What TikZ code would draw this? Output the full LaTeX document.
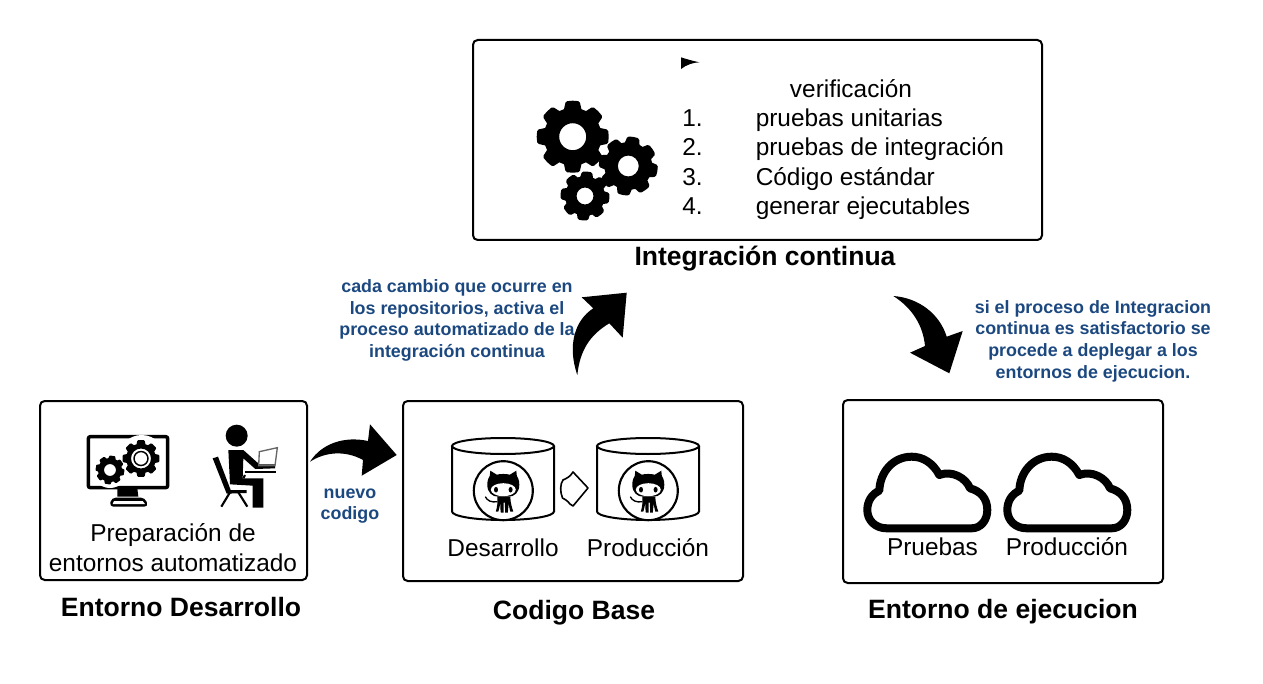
\documentclass[tikz,border=0pt]{standalone}
\usepackage{fontspec}
\setmainfont{Liberation Sans}
\definecolor{noteblue}{RGB}{28,72,128}
\newcommand{\gearshape}[6]{% cx cy router rinner hole phase
  \filldraw[even odd rule,line join=round]
   \foreach \k in {0,...,7}{
     \ifnum\k=0 ({#1+#4*cos(#6-15)},{#2+#4*sin(#6-15)}) \else -- ({#1+#4*cos(\k*45+#6-15)},{#2+#4*sin(\k*45+#6-15)}) \fi
     -- ({#1+#3*cos(\k*45+#6-9)},{#2+#3*sin(\k*45+#6-9)})
     arc[start angle={\k*45+#6-9},end angle={\k*45+#6+9},radius=#3]
     -- ({#1+#4*cos(\k*45+#6+15)},{#2+#4*sin(\k*45+#6+15)})
   } -- cycle
   (#1,#2) circle[radius=#5];}
\newcommand{\octocat}[2]{%
 \begin{scope}[shift={(#1,#2)}]
  \draw[line width=1.6pt,fill=white] (0,0) circle[radius=29.5];
  \fill (-16,-6) .. controls (-16,-11) and (-14.5,-13) .. (-13.5,-15) -- (-13,-20) -- (-6.5,-16)
     .. controls (-3,-17) and (3,-17) .. (6.5,-16) -- (13,-20) -- (13.5,-15)
     .. controls (14.5,-13) and (16,-11) .. (16,-6)
     .. controls (16,2) and (11,6) .. (5,6) -- (-5,6) .. controls (-11,6) and (-16,2) .. (-16,-6) -- cycle;
  \fill[white] (0,-1) ellipse[x radius=12.5,y radius=6.5];
  \fill (-7.3,-1) ellipse[x radius=2,y radius=2.8] (7.3,-1) ellipse[x radius=2,y radius=2.8];
  \fill (-6,6) -- (7,6) .. controls (7,12) and (9,18) .. (10,21) -- (7,21) .. controls (6,17) and (5.5,14) .. (5,12)
     .. controls (5,16) and (5,19) .. (4.5,22) -- (1.8,22) -- (1.6,12) -- (0.4,12) -- (0.2,22) -- (-2.5,22) .. controls (-3,18) and (-3,15) .. (-3,12)
     .. controls (-3.5,15) and (-4,18) .. (-5,21) -- (-7.5,21) .. controls (-6,16) and (-5.5,11) .. (-6,6) -- cycle;
  \draw[line width=1pt] (-18,6) .. controls (-16,10) and (-12,12) .. (-6,11);
 \end{scope}}
\newcommand{\cyl}[2]{% left right
  \draw[line width=1.5pt] (#2,446) -- (#2,511.5) arc[start angle=0,end angle=180,x radius={(#2-#1)/2},y radius=8.5] -- (#1,446);
  \draw[line width=1.5pt] ({(#1+#2)/2},446) ellipse[x radius={(#2-#1)/2},y radius=8];}
\newcommand{\cloudshape}[1]{%
 \draw[line width=6pt,line join=round,shift={(#1,0)}]
   (886.7,528.3) -- (971.7,528.3)
   .. controls (981,528.3) and (987.3,520) .. (987.3,510)
   .. controls (987.3,498) and (980,491) .. (970,488.3)
   .. controls (966,478) and (952,470) .. (939.3,475)
   .. controls (933,463) and (923,456.7) .. (911.7,456.7)
   .. controls (893,456.7) and (880,472) .. (879.3,490.7)
   .. controls (872,494) and (867.3,501) .. (867.3,510)
   .. controls (867.3,520) and (875,528.3) .. (886.7,528.3) -- cycle;}
\tikzset{
  box/.style={draw=black,line width=1.5pt,rounded corners=3.5pt,fill=white,inner sep=0pt},
  body/.style={anchor=base,inner sep=0pt,font=\fontsize{18.3}{18.3}\selectfont},
  bodyl/.style={anchor=base west,inner sep=0pt,font=\fontsize{18.3}{18.3}\selectfont},
  title/.style={anchor=base,inner sep=0pt,font=\fontsize{19.9}{19.9}\selectfont\bfseries},
  note/.style={anchor=center,inner sep=0pt,align=center,text=noteblue,font=\fontsize{13.4}{16.2}\selectfont\bfseries},
  zoomA/.style={shift={(30,395)},x=0.25pt,y=-0.25pt},
}
\begin{document}
\begin{tikzpicture}[x=0.75pt,y=-0.75pt]
\useasboundingbox (0,0) rectangle (1263,684);
% boxes
\node[box,minimum width=426.75pt,minimum height=150pt] (ci) at (757.5,140) {};
\node[box,minimum width=200.25pt,minimum height=134.25pt] (dev) at (173.5,490.5) {};
\node[box,minimum width=255pt,minimum height=135pt] (code) at (573,491) {};
\node[box,minimum width=240pt,minimum height=137.25pt] (run) at (1003,491.5) {};
% flag
\fill (681,57.3) .. controls (686,59) and (693,61) .. (699.3,62.3) .. controls (693,62.5) and (686,65) .. (681,69) -- cycle;
% gears
\begin{scope}[line width=3pt]
\gearshape{572.7}{136.7}{34}{27}{15.5}{0}
\gearshape{628.3}{166}{27.5}{22}{12.5}{10}
\gearshape{585}{196}{22.5}{18}{10.5}{5}
\end{scope}
% list text
\node[body] (verif) at (851,98) {verificación};
\node[bodyl] (n1) at (682,127) {1.};
\node[bodyl] (n2) at (682,156) {2.};
\node[bodyl] (n3) at (682,186) {3.};
\node[bodyl] (n4) at (682,215) {4.};
\node[bodyl] (t1) at (755.5,127) {pruebas unitarias};
\node[bodyl] (t2) at (755.5,156) {pruebas de integración};
\node[bodyl] (t3) at (755.5,186) {Código estándar};
\node[bodyl] (t4) at (755.5,215) {generar ejecutables};
% titles
\node[title] (tci) at (765,265.7) {Integración continua};
\node[title] (tdev) at (181,616) {Entorno Desarrollo};
\node[title] (tcode) at (574,619) {Codigo Base};
\node[title] (trun) at (1003,618) {Entorno de ejecucion};
% notes
\node[note] (n-a) at (457,320.5) {cada cambio que ocurre en\\los repositorios, activa el\\proceso automatizado de la\\integración continua};
\node[note] (n-b) at (1093,341) {si el proceso de Integracion\\continua es satisfactorio se\\procede a deplegar a los\\entornos de ejecucion.};
\node[note] (n-c) at (350,506) {nuevo\\codigo};
% curved arrows
\fill (310,461.7) .. controls (322,443) and (345,436) .. (368,441) -- (370,424.3) -- (396.7,455) -- (361.7,475.7) -- (363,460)
   .. controls (345,450) and (325,452) .. (310,461.7) -- cycle;
\fill (577.3,375) .. controls (567,345) and (575,320) .. (593.3,308.3) -- (581.7,297.3) -- (626.7,292.7) -- (622.7,337.7) -- (609.3,323.3)
   .. controls (590,335) and (580,350) .. (577.3,375) -- cycle;
\fill (893.3,296) .. controls (920,298) and (940,315) .. (946.7,336.7) -- (962.7,331) -- (949.3,373.3) -- (910,352.7) -- (925,346)
   .. controls (923,325) and (912,308) .. (893.3,296) -- cycle;
% monitor icon
\begin{scope}[zoomA]
\draw[line width=2.6pt,rounded corners=1.5pt] (175,125) rectangle (413,278);
\fill (262,280) -- (322,280) -- (325,305) -- (262,305) -- cycle;
\fill[rounded corners=3pt] (238,335) -- (245,308) -- (345,308) -- (355,335) -- cycle;
\fill[white] (252,318) -- (338,318) -- (345,327) -- (248,327) -- cycle;
\fill[white] (335,190) circle[radius=70];
\fill[white] (240,225) circle[radius=54];
\end{scope}
\begin{scope}[line width=1.5pt]
\gearshape{141}{458.5}{17.5}{14}{11}{0}
\gearshape{110}{470}{13.5}{11}{7}{10}
\end{scope}
\draw[line width=1.1pt] (141,458.5) circle[radius=7];
% person icon
\begin{scope}[zoomA]
\fill (620,122) circle[radius=33];
\fill (595,165) -- (640,165) -- (688,208) -- (735,208) -- (735,220) -- (676,222) -- (640,190) -- (638,250) -- (700,250) -- (700,338) -- (668,338) -- (668,272) -- (600,268) -- cycle;
\fill (548,190) -- (564,185) -- (602,285) -- (650,285) -- (650,294) -- (590,296) -- cycle;
\draw[line width=1.6pt] (600,292) -- (574,335) (625,292) -- (652,335);
\draw[line width=1.6pt] (645,230) -- (738,230);
\draw[line width=1pt,draw=black!60] (688,170) -- (742,158) -- (735,212) -- (686,212) -- cycle;
\draw[line width=1.6pt] (645,240) -- (640,250);
\end{scope}
\node[body] (prep1) at (173,541) {Preparación de};
\node[body] (prep2) at (173,571) {entornos automatizado};
% cylinders
\cyl{452}{554}
\cyl{597}{699}
\octocat{503.3}{490.7}
\octocat{648.3}{490.7}
\node[body] (des) at (503,556) {Desarrollo};
\node[body] (prod) at (648,556) {Producción};
\draw[line width=1.2pt,line join=round,fill=white] (573,472) -- (588,488) -- (573,506) -- (570,504) .. controls (567,500) and (564,499) .. (562.5,498) .. controls (560,492) and (560,484) .. (563,480) .. controls (567,478) and (570,477) .. (573,472) -- cycle;
% clouds
\cloudshape{0}
\cloudshape{140}
\node[body] (pru) at (932.5,555) {Pruebas};
\node[body] (prod2) at (1067,555) {Producción};
\end{tikzpicture}
\end{document}
